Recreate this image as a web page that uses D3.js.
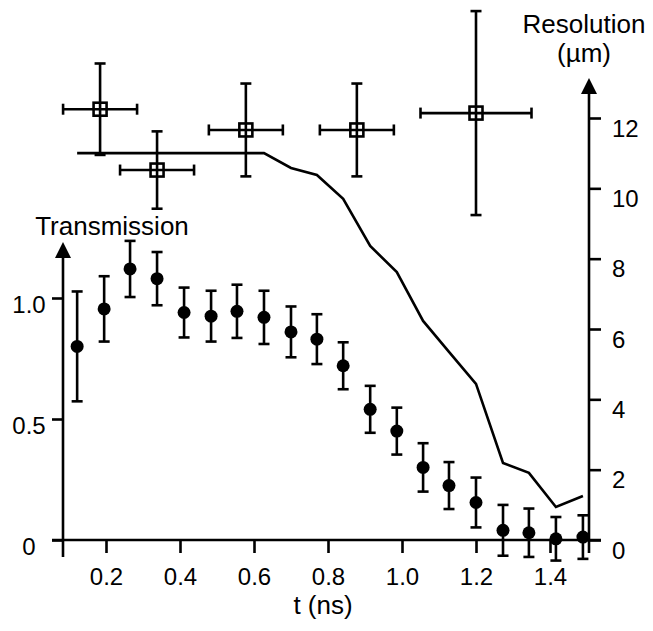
<!DOCTYPE html>
<html>
<head>
<script src="https://d3js.org/d3.v7.min.js"></script>
<title>Transmission and resolution vs time</title>
<style>
  body { margin: 0; background: #fff; }
  svg text { font-family: "Liberation Sans", Arial, sans-serif; fill: #000; }
</style>
</head>
<body>
<div id="chart"></div>
<script>
// transmission points (filled circles)
var tTimes = [0.122, 0.195, 0.265, 0.338, 0.411, 0.484, 0.554, 0.627, 0.700, 0.770,
              0.841, 0.914, 0.986, 1.057, 1.127, 1.200, 1.273, 1.343, 1.416, 1.489];
var transmission = [0.80, 0.955, 1.12, 1.08, 0.94, 0.925, 0.945, 0.92, 0.86, 0.83,
                    0.72, 0.54, 0.45, 0.30, 0.225, 0.155, 0.04, 0.03, 0.005, 0.012];
var transErr = [0.227, 0.135, 0.116, 0.11, 0.103, 0.105, 0.11, 0.11, 0.105, 0.103,
                0.097, 0.097, 0.097, 0.10, 0.097, 0.103, 0.105, 0.10, 0.09, 0.09];

// resolution curve (line), same time points
var resCurve = [11.0, 11.0, 11.0, 11.0, 11.0, 11.0, 11.0, 11.0, 10.58, 10.38,
                9.70, 8.36, 7.62, 6.23, 5.35, 4.44, 2.19, 1.91, 0.94, 1.25];

// measured resolution (open squares)
var resTimes = [0.184, 0.338, 0.578, 0.878, 1.2];
var resValues = [12.25, 10.52, 11.66, 11.66, 12.14];
var resTimeErr = [0.1, 0.1, 0.1, 0.1, 0.15];
var resErr = [1.3, 1.1, 1.32, 1.32, 2.9];

// tick labels
var xTicks = [0.2, 0.4, 0.6, 0.8, 1.0, 1.2, 1.4];
var tTicks = [0, 0.5, 1.0];
var rTicks = [0, 2, 4, 6, 8, 10, 12];

var svg = d3.select("#chart").append("svg")
    .attr("width", 653)
    .attr("height", 631);

var x = d3.scaleLinear().domain([0, 1]).range([32, 402]);
var yT = d3.scaleLinear().domain([0, 1]).range([540, 298]);
var yR = d3.scaleLinear().domain([0, 12]).range([540, 118]);

var leftX = 63, rightX = 589, baseY = 540;
var sw = 2.6;

// axes lines
svg.append("line").attr("x1", 52).attr("x2", 601).attr("y1", baseY).attr("y2", baseY)
    .attr("stroke", "#000").attr("stroke-width", sw);
svg.append("line").attr("x1", leftX).attr("x2", leftX).attr("y1", 256).attr("y2", 557)
    .attr("stroke", "#000").attr("stroke-width", sw);
svg.append("line").attr("x1", rightX).attr("x2", rightX).attr("y1", 92).attr("y2", 553)
    .attr("stroke", "#000").attr("stroke-width", sw);

// arrow heads
svg.append("path").attr("d", "M" + leftX + ",242 L" + (leftX - 8) + ",258 L" + (leftX + 8) + ",258 Z")
    .attr("fill", "#000");
svg.append("path").attr("d", "M" + rightX + ",78 L" + (rightX - 8) + ",94 L" + (rightX + 8) + ",94 Z")
    .attr("fill", "#000");

// x axis
var xAxis = svg.append("g")
    .attr("transform", "translate(0," + baseY + ")")
    .call(d3.axisBottom(x).tickValues(xTicks).tickSize(13).tickFormat(d3.format(".1f")));
xAxis.select(".domain").remove();
xAxis.selectAll("line").attr("stroke-width", sw);
xAxis.selectAll("text").attr("y", 45).attr("dy", null).style("font-size", "24px");

// left axis
var tAxis = svg.append("g")
    .attr("transform", "translate(" + leftX + ",0)")
    .call(d3.axisLeft(yT).tickValues(tTicks).tickSize(11)
        .tickFormat(function (d) { return d === 0 ? "0" : d3.format(".1f")(d); }));
tAxis.select(".domain").remove();
tAxis.selectAll("line").attr("stroke-width", sw);
tAxis.selectAll("text").attr("text-anchor", "middle").attr("x", -34)
    .attr("dy", null).attr("y", 14.5).style("font-size", "24px");

// right axis
var rAxis = svg.append("g")
    .attr("transform", "translate(" + rightX + ",0)")
    .call(d3.axisRight(yR).tickValues(rTicks).tickSize(12));
rAxis.select(".domain").remove();
rAxis.selectAll("line").attr("stroke-width", sw);
rAxis.selectAll("text").attr("x", 23).attr("dy", null).attr("y", 18).style("font-size", "24px");

// axis titles
svg.append("text").attr("x", 112).attr("y", 235).attr("text-anchor", "middle")
    .style("font-size", "26px").text("Transmission");
svg.append("text").attr("x", 584).attr("y", 33).attr("text-anchor", "middle")
    .style("font-size", "26px").text("Resolution");
svg.append("text").attr("x", 584).attr("y", 62).attr("text-anchor", "middle")
    .style("font-size", "26px").text("(µm)");
svg.append("text").attr("x", 323).attr("y", 614).attr("text-anchor", "middle")
    .style("font-size", "26px").text("t (ns)");

// resolution curve
var line = d3.line()
    .x(function (d, i) { return x(tTimes[i]); })
    .y(function (d) { return yR(d); });
svg.append("path").datum(resCurve)
    .attr("d", line)
    .attr("fill", "none").attr("stroke", "#000").attr("stroke-width", sw);

// transmission error bars + points
var tData = tTimes.map(function (t, i) {
    return { t: t, v: transmission[i], e: transErr[i] };
});
var cap = 5.5;
var tg = svg.append("g").selectAll("g").data(tData).enter().append("g");
tg.append("line")
    .attr("x1", function (d) { return x(d.t); }).attr("x2", function (d) { return x(d.t); })
    .attr("y1", function (d) { return yT(d.v + d.e); }).attr("y2", function (d) { return yT(d.v - d.e); })
    .attr("stroke", "#000").attr("stroke-width", sw);
tg.append("line")
    .attr("x1", function (d) { return x(d.t) - cap; }).attr("x2", function (d) { return x(d.t) + cap; })
    .attr("y1", function (d) { return yT(d.v + d.e); }).attr("y2", function (d) { return yT(d.v + d.e); })
    .attr("stroke", "#000").attr("stroke-width", sw);
tg.append("line")
    .attr("x1", function (d) { return x(d.t) - cap; }).attr("x2", function (d) { return x(d.t) + cap; })
    .attr("y1", function (d) { return yT(d.v - d.e); }).attr("y2", function (d) { return yT(d.v - d.e); })
    .attr("stroke", "#000").attr("stroke-width", sw);
tg.append("circle")
    .attr("cx", function (d) { return x(d.t); })
    .attr("cy", function (d) { return yT(d.v); })
    .attr("r", 6.5).attr("fill", "#000");

// resolution measurements
var rData = resTimes.map(function (t, i) {
    return { t: t, v: resValues[i], et: resTimeErr[i], ev: resErr[i] };
});
var rg = svg.append("g").selectAll("g").data(rData).enter().append("g");
rg.append("line")
    .attr("x1", function (d) { return x(d.t); }).attr("x2", function (d) { return x(d.t); })
    .attr("y1", function (d) { return yR(d.v + d.ev); }).attr("y2", function (d) { return yR(d.v - d.ev); })
    .attr("stroke", "#000").attr("stroke-width", sw);
rg.append("line")
    .attr("x1", function (d) { return x(d.t - d.et); }).attr("x2", function (d) { return x(d.t + d.et); })
    .attr("y1", function (d) { return yR(d.v); }).attr("y2", function (d) { return yR(d.v); })
    .attr("stroke", "#000").attr("stroke-width", sw);
[-1, 1].forEach(function (s) {
    rg.append("line")
        .attr("x1", function (d) { return x(d.t) - cap; }).attr("x2", function (d) { return x(d.t) + cap; })
        .attr("y1", function (d) { return yR(d.v + s * d.ev); }).attr("y2", function (d) { return yR(d.v + s * d.ev); })
        .attr("stroke", "#000").attr("stroke-width", sw);
    rg.append("line")
        .attr("x1", function (d) { return x(d.t + s * d.et); }).attr("x2", function (d) { return x(d.t + s * d.et); })
        .attr("y1", function (d) { return yR(d.v) - cap; }).attr("y2", function (d) { return yR(d.v) + cap; })
        .attr("stroke", "#000").attr("stroke-width", sw);
});
rg.append("rect")
    .attr("x", function (d) { return x(d.t) - 6.5; })
    .attr("y", function (d) { return yR(d.v) - 6.5; })
    .attr("width", 13).attr("height", 13)
    .attr("fill", "none").attr("stroke", "#000").attr("stroke-width", sw);
</script>
</body>
</html>
